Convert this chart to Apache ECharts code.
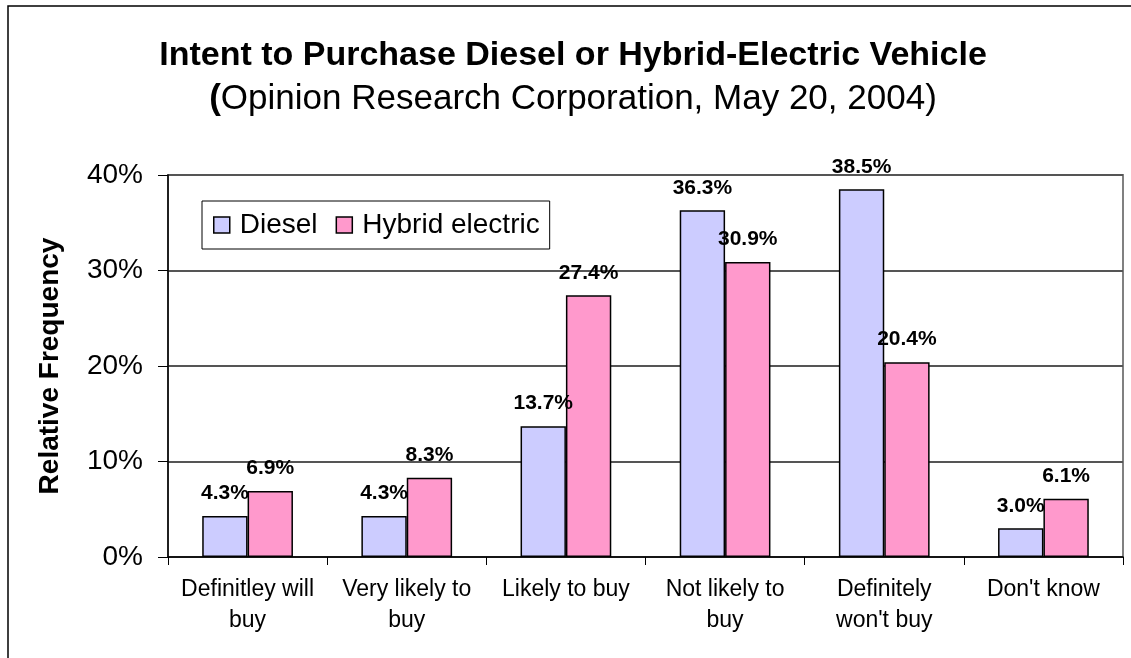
<!DOCTYPE html>
<html>
<head>
<meta charset="utf-8">
<script src="https://cdn.jsdelivr.net/npm/echarts@6/dist/echarts.min.js"></script>
<style>
  html, body { margin: 0; padding: 0; background: #fff; }
  #main { width: 1131px; height: 658px; }
</style>
</head>
<body>
<div id="main"></div>
<script>
var categories = ['Definitley will\nbuy', 'Very likely to\nbuy', 'Likely to buy', 'Not likely to\nbuy', 'Definitely\nwon\'t buy', 'Don\'t know'];
var diesel = [4.3, 4.3, 13.7, 36.3, 38.5, 3.0];
var hybrid = [6.9, 8.3, 27.4, 30.9, 20.4, 6.1];
var yTicks = [0, 10, 20, 30, 40];

var font = 'Liberation Sans, Arial, sans-serif';
var chart = echarts.init(document.getElementById('main'));

function pct(p) { return p.value.toFixed(1) + '%'; }

var option = {
    backgroundColor: '#fff',
    textStyle: { fontFamily: font, color: '#000' },
    animation: false,
    title: {
        text: 'Intent to Purchase Diesel or Hybrid-Electric Vehicle',
        subtext: '{b|(}Opinion Research Corporation, May 20, 2004)',
        left: 568,
        textAlign: 'center',
        top: 34,
        itemGap: 9,
        textStyle: { fontFamily: font, fontSize: 34, fontWeight: 'bold', color: '#000' },
        subtextStyle: {
            fontFamily: font, fontSize: 35, color: '#000',
            rich: { b: { fontFamily: font, fontSize: 35, fontWeight: 'bold', color: '#000' } }
        }
    },
    graphic: [{
        type: 'rect',
        shape: { x: 8, y: 6, width: 1300, height: 800 },
        style: { fill: 'none', stroke: '#000', lineWidth: 1.5 },
        silent: true
    }],
    legend: {
        left: 202,
        top: 201,
        orient: 'horizontal',
        borderColor: '#000',
        borderWidth: 1,
        padding: [10, 10, 10, 11],
        itemWidth: 16,
        itemHeight: 16,
        itemGap: 18,
        icon: 'rect',
        itemStyle: { borderColor: '#000', borderWidth: 1.5 },
        textStyle: { fontFamily: font, fontSize: 28, color: '#000', padding: [0, 0, 0, 5] },
        data: ['Diesel', 'Hybrid electric']
    },
    grid: {
        left: 168, right: 8, top: 175, bottom: 101,
        show: true,
        borderColor: '#808080',
        borderWidth: 2,
        backgroundColor: '#fff'
    },
    xAxis: {
        type: 'category',
        data: categories,
        axisLine: { lineStyle: { color: '#000', width: 1.5 } },
        axisTick: { show: true, length: 8, lineStyle: { color: '#000' } },
        axisLabel: { fontFamily: font, fontSize: 23, color: '#000', lineHeight: 31, margin: 17, interval: 0 }
    },
    yAxis: {
        type: 'value',
        min: yTicks[0],
        max: yTicks[yTicks.length - 1],
        interval: 10,
        name: 'Relative Frequency',
        nameLocation: 'middle',
        nameGap: 104,
        nameTextStyle: { fontFamily: font, fontSize: 28, fontWeight: 'bold', color: '#000' },
        axisLine: { show: true, lineStyle: { color: '#000', width: 1.5 } },
        axisTick: { show: true, length: 10, lineStyle: { color: '#000' } },
        axisLabel: { fontFamily: font, fontSize: 28, color: '#000', margin: 25, formatter: '{value}%' },
        splitLine: { lineStyle: { color: '#555', width: 2 } }
    },
    series: [{
        name: 'Diesel',
        type: 'bar',
        data: diesel,
        barGap: '0%',
        barCategoryGap: '43%',
        itemStyle: { color: '#CCCCFF', borderColor: '#000', borderWidth: 1.5 },
        label: { show: true, position: 'top', distance: 12, formatter: pct, fontFamily: font, fontSize: 21, fontWeight: 'bold', color: '#000' }
    }, {
        name: 'Hybrid electric',
        type: 'bar',
        data: hybrid,
        itemStyle: { color: '#FF99CC', borderColor: '#000', borderWidth: 1.5 },
        label: { show: true, position: 'top', distance: 12, formatter: pct, fontFamily: font, fontSize: 21, fontWeight: 'bold', color: '#000' }
    }]
};

chart.setOption(option);
</script>
</body>
</html>
